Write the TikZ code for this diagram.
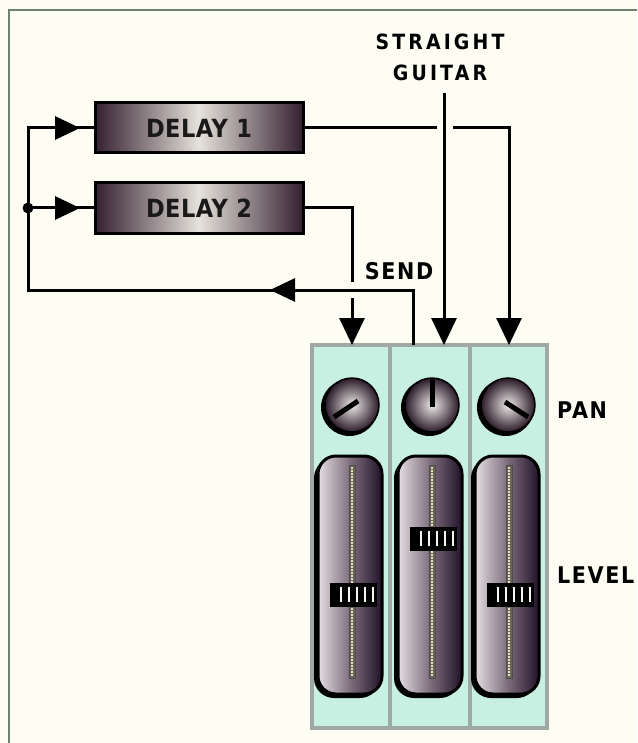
\documentclass[tikz,border=0pt]{standalone}
\usepackage{fontspec}
\setmainfont{DejaVu Sans}
\newfontfamily\labfont{DejaVu Sans Bold}[FakeStretch=0.9]
\usetikzlibrary{arrows.meta,decorations.markings,calc}
\definecolor{bgcol}{HTML}{FDFDF4}
\definecolor{framecol}{HTML}{6E806E}
\definecolor{mint}{HTML}{C8F0E2}
\definecolor{stripline}{HTML}{A0A8A4}
\definecolor{darkpurp}{HTML}{22122A}
\definecolor{boxdark}{HTML}{34202F}
\definecolor{boxlight}{HTML}{E6E2DC}
\definecolor{knoblight}{HTML}{EEEAE8}
\definecolor{knobdark}{HTML}{2A1A28}
\definecolor{faderlight}{HTML}{E4DEE2}
\definecolor{fadermid}{HTML}{7E6E7C}
\definecolor{slotcol}{HTML}{6A6458}
\definecolor{slotdot}{HTML}{E8E0C0}
\begin{document}
\begin{tikzpicture}[x=1pt,y=-1pt,line join=miter,
  wire/.style={line width=3pt,black},
  tipdown/.style={-{Triangle[length=27pt,width=25pt]}},
  midarrow/.style={postaction={decorate},decoration={markings,
     mark=at position #1 with {\arrow{Triangle[length=25pt,width=23pt]}}}},
  twoarrows/.style 2 args={postaction={decorate},decoration={markings,
     mark=at position #1 with {\arrow{Triangle[length=25pt,width=23pt]}},
     mark=at position #2 with {\arrow{Triangle[length=25pt,width=23pt]}}}},
  lab/.style={font=\labfont\addfontfeatures{LetterSpace=7}\fontsize{23}{31}\selectfont,text=black,inner sep=0pt},
  delaybox/.style={draw=black,line width=3pt,minimum width=208pt,minimum height=50pt,
     left color=boxdark,right color=boxdark,middle color=boxlight,inner sep=0pt,
     font=\labfont\addfontfeatures{LetterSpace=2}\fontsize{25}{28}\selectfont,text=black!90},
  strip/.style={draw=stripline,line width=4pt,fill=mint,minimum height=383pt,inner sep=0pt},
  knobshadow/.style={circle,fill=black,minimum size=57pt,inner sep=0pt},
  knob/.style={circle,draw=black,line width=1.5pt,minimum size=54pt,inner sep=0pt,
     inner color=knoblight,outer color=knobdark},
  faderbody/.style={rounded corners=18pt,draw=black,line width=3pt,minimum width=64pt,
     minimum height=238pt,inner sep=0pt,left color=faderlight,right color=darkpurp,middle color=fadermid},
  fadershadow/.style={rounded corners=20pt,fill=black,minimum width=66pt,minimum height=240pt,inner sep=0pt},
  pointer/.style={line width=5pt,black}
]
\useasboundingbox (0,0) rectangle (637,743);
\fill[bgcol] (0,0) rectangle (637,743);
\draw[framecol,line width=2pt] (9,743) -- (9,10) -- (637,10);

% mixer strips
\node[strip,minimum width=78pt] (s1) at (351,536.5) {};
\node[strip,minimum width=80pt] (s2) at (430,536.5) {};
\node[strip,minimum width=77pt] (s3) at (508.5,536.5) {};

% knobs
\foreach \n/\kx in {1/352,2/432,3/508}{
  \node[knobshadow] (ks\n) at (\kx-2.5,407.5) {};
  \node[knob] (k\n) at (\kx,405) {};
}
\draw[pointer] ($(k1.center)+(6,-4)$) -- ($(k1.center)+(-18,12)$);
\draw[pointer] ($(k2.center)+(0,2)$) -- ($(k2.center)+(0,-27)$);
\draw[pointer] ($(k3.center)+(-3,-3)$) -- ($(k3.center)+(20,12)$);

% faders
\foreach \n/\fx/\cy in {1/350/595,2/430/539,3/507/595}{
  \node[fadershadow] (fs\n) at (\fx-3,578) {};
  \node[faderbody] (f\n) at (\fx,575) {};
  \fill[slotcol] (\fx-1,465) rectangle (\fx+5,678);
  \draw[black!70,line width=0.6pt] (\fx-1,465) rectangle (\fx+5,678);
  \draw[slotdot,line width=1.6pt,dash pattern=on 1.5pt off 1.5pt] (\fx+2,467) -- (\fx+2,676);
  \fill[black] (\fx-20,\cy-12) rectangle (\fx+27,\cy+12);
  \foreach \t in {-9,-1,7,15,23}{
    \fill[white!92!gray] (\fx+\t-1.3,\cy-8) rectangle (\fx+\t+1.3,\cy+7);
  }
}

% delay boxes
\node[delaybox] (d1) at (199,128) {DELAY 1};
\node[delaybox] (d2) at (199,208) {DELAY 2};

% labels
\node[lab,align=center,font=\labfont\addfontfeatures{LetterSpace=15}\fontsize{21}{31}\selectfont] (sg) at (440,57) {STRAIGHT\\GUITAR};
\node[lab] (send) at (399,271) {SEND};
\node[lab,anchor=west] (pan) at (557,410) {PAN};
\node[lab,anchor=west] (level) at (557,575) {LEVEL};

% coordinates
\coordinate (in1) at (352,345);
\coordinate (in2) at (444,345);
\coordinate (in3) at (509,345);
\coordinate (retS) at (413,345);
\coordinate (loopL) at (28,290);
\coordinate (jn) at (28,208);
\coordinate (gapA) at (437,128);
\coordinate (gapB) at (453,128);
\coordinate (gapC) at (352,282);
\coordinate (gapD) at (352,298);
\coordinate (gtop) at (444,93);

% feedback loop
\draw[wire,twoarrows={198pt}{654pt}] (retS) |- (loopL) |- (d1.west);
\draw[wire,midarrow=52pt] (jn) -- (d2.west);
\fill (jn) circle (5.5pt);

% delay outputs
\draw[wire] (d1.east) -- (gapA);
\draw[wire,tipdown] (gapB) -| (in3);
\draw[wire] (d2.east) -| (gapC);
\draw[wire,tipdown] (gapD) -- (in1);

% straight guitar
\draw[wire,tipdown] (gtop) -- (in2);
\end{tikzpicture}
\end{document}
